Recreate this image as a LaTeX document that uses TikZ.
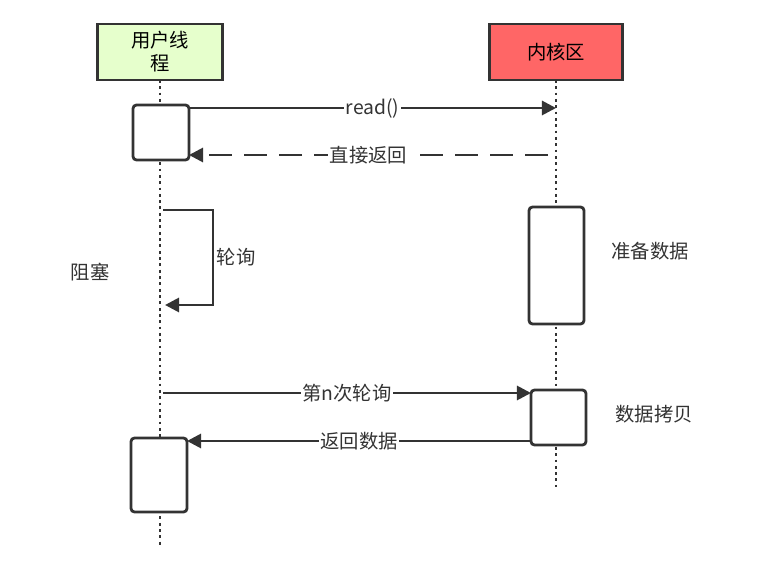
\documentclass[tikz,border=0pt]{standalone}
\usepackage{fontspec}
\setmainfont{Noto Sans CJK SC}
\usetikzlibrary{arrows.meta}
\definecolor{linec}{HTML}{333333}
\definecolor{userc}{HTML}{E6FFCC}
\definecolor{kernc}{HTML}{FF6666}
\tikzset{
  head/.style={draw=linec,line width=1.6pt,minimum width=3.45cm/1.38,minimum height=1.12cm,align=center,inner sep=0pt},
  act/.style={draw=linec,line width=1.6pt,fill=white,rounded corners=2pt},
  life/.style={draw=linec,line width=1.6pt,dotted},
  msg/.style={draw=linec,line width=1.6pt,-{Triangle[length=8pt,width=8pt]}},
  lbl/.style={fill=white,inner sep=1pt,text=linec},
  note/.style={text=linec}
}
\begin{document}
\begin{tikzpicture}[x=0.02cm,y=-0.02cm,font=\fontsize{11}{13}\selectfont]
            \useasboundingbox (0,0) rectangle (776,573);

            \coordinate (uTop) at (160,80);
            \coordinate (uBot) at (160,545);
            \coordinate (kTop) at (556,80);
            \coordinate (kBot) at (556,487);
            \draw[life] (uTop) -- (uBot);
            \draw[life] (kTop) -- (kBot);

            \node[head,fill=userc,minimum width=2.5cm] (user) at (160,52) {用户线\\程};
            \node[head,fill=kernc,minimum width=2.66cm] (kernel) at (556,52) {内核区};

            \draw[act] (133,105) rectangle (189,160);
            \draw[act] (131,438) rectangle (187,512);
            \draw[act] (529,207) rectangle (584,324);
            \draw[act] (531,390) rectangle (586,445);

            \coordinate (r1) at (189,108);
            \coordinate (r2) at (556,108);
            \coordinate (d1) at (548,155);
            \coordinate (d2) at (189,155);
            \coordinate (p1) at (163,393);
            \coordinate (p2) at (531,393);
            \coordinate (b1) at (531,441);
            \coordinate (b2) at (187,441);

            \draw[msg] (r1) -- node[lbl] {read()} (r2);
            \draw[msg,dash pattern=on 13pt off 7pt] (d1) -- node[lbl] {直接返回} (d2);
            \draw[msg] (163,210) -- (213,210) -- node[note,right=-2pt] {轮询} (213,305) -- (165,305);
            \draw[msg] (p1) -- node[lbl] {第n次轮询} (p2);
            \draw[msg] (b1) -- node[lbl] {返回数据} (b2);

            \node[note] (block) at (90,272) {阻塞};
            \node[note] (prep) at (650,251) {准备数据};
            \node[note] (copy) at (654,414) {数据拷贝};
        \end{tikzpicture}
\end{document}
